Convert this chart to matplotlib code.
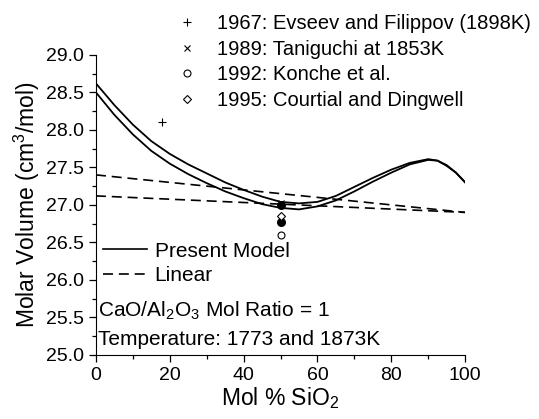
import matplotlib
matplotlib.use("Agg")
import matplotlib.pyplot as plt
from matplotlib.lines import Line2D

plt.rcParams['font.family'] = ['Liberation Sans', 'DejaVu Sans']
plt.rcParams['mathtext.fontset'] = 'custom'
plt.rcParams['mathtext.rm'] = 'Liberation Sans'
plt.rcParams['mathtext.it'] = 'Liberation Sans'

# model curves (1773 K and 1873 K)
x_model = [0, 5, 10, 15, 20, 25, 30, 35, 40, 45, 50, 55, 60, 65, 70, 75, 80, 85, 90, 92.5, 95, 97.5, 100]
v_model_hi = [28.62, 28.33, 28.07, 27.85, 27.68, 27.54, 27.42, 27.30, 27.20, 27.11, 27.04, 27.02, 27.04,
              27.12, 27.24, 27.36, 27.47, 27.56, 27.61, 27.59, 27.53, 27.43, 27.30]
v_model_lo = [28.50, 28.20, 27.94, 27.72, 27.55, 27.41, 27.29, 27.18, 27.09, 27.01, 26.96, 26.94, 26.98,
              27.06, 27.18, 27.31, 27.43, 27.54, 27.60, 27.59, 27.52, 27.43, 27.30]

# linear mixing lines
x_lin = [0, 100]
v_lin_hi = [27.40, 26.90]
v_lin_lo = [27.12, 26.90]

# experimental data
x_evseev, v_evseev = [18], [28.10]
x_tani, v_tani = [50], [27.02]
x_konche, v_konche = [50], [26.60]
x_court, v_court = [50], [26.85]
x_filled, v_filled = [50, 50], [27.00, 26.77]

DASH = (0, (6, 3.5))

fig = plt.figure(figsize=(5.39, 4.19), dpi=100)
ax = fig.add_axes([0.178, 0.153, 0.685, 0.716])

ax.plot(x_model, v_model_hi, color='black', lw=1.3)
ax.plot(x_model, v_model_lo, color='black', lw=1.3)
ax.plot(x_lin, v_lin_hi, color='black', lw=1.2, ls=DASH)
ax.plot(x_lin, v_lin_lo, color='black', lw=1.2, ls=DASH)

ax.plot(x_evseev, v_evseev, ls='none', marker='+', ms=6, mew=0.8, color='black')
ax.plot(x_tani, v_tani, ls='none', marker='x', ms=5, mew=0.8, color='black')
ax.plot(x_filled, v_filled, ls='none', marker='o', ms=5.5, color='black')
ax.plot(x_court, v_court, ls='none', marker='D', ms=4.5, mfc='white', mec='black', mew=0.8)
ax.plot(x_konche, v_konche, ls='none', marker='o', ms=5, mfc='white', mec='black', mew=0.8)

ax.set_xlim(0, 100)
ax.set_ylim(25.0, 29.0)
ax.set_xticks([0, 20, 40, 60, 80, 100])
ax.set_xticks(range(10, 100, 20), minor=True)
ax.set_yticks([25.0, 25.5, 26.0, 26.5, 27.0, 27.5, 28.0, 28.5, 29.0])
ax.set_yticks([25.25 + 0.5 * i for i in range(8)], minor=True)
ax.yaxis.set_major_formatter(matplotlib.ticker.FormatStrFormatter('%.1f'))
ax.tick_params(which='major', direction='out', length=5, width=0.9, labelsize=14)
ax.tick_params(which='minor', direction='out', length=3, width=0.9)
for s in ['top', 'right']:
    ax.spines[s].set_visible(False)

ax.set_xlabel('Mol % SiO$_2$', fontsize=16.5, labelpad=1)
ax.set_ylabel('Molar Volume (cm$^3$/mol)', fontsize=16.5, labelpad=3)

# line legend inside the axes
line_handles = [Line2D([], [], color='black', lw=1.2),
                Line2D([], [], color='black', lw=1.2, ls=DASH)]
ax.legend(line_handles, ['Present Model', 'Linear'], loc='lower left',
          bbox_to_anchor=(-0.02, 0.185), frameon=False, fontsize=15,
          handlelength=2.1, handletextpad=0.37, labelspacing=0.25, borderpad=0.2)

ax.text(0.005, 0.128, 'CaO/Al$_2$O$_3$ Mol Ratio = 1', transform=ax.transAxes,
        fontsize=15, va='baseline', ha='left')
ax.text(0.005, 0.033, 'Temperature: 1773 and 1873K', transform=ax.transAxes,
        fontsize=15, va='baseline', ha='left')

# data legend above the axes
data_handles = [
    Line2D([], [], ls='none', marker='+', ms=6, mew=0.8, color='black'),
    Line2D([], [], ls='none', marker='x', ms=5, mew=0.8, color='black'),
    Line2D([], [], ls='none', marker='o', ms=5, mfc='white', mec='black', mew=0.8),
    Line2D([], [], ls='none', marker='D', ms=4.5, mfc='white', mec='black', mew=0.8),
]
data_labels = ['1967: Evseev and Filippov (1898K)', '1989: Taniguchi at 1853K',
               '1992: Konche et al.', '1995: Courtial and Dingwell']
fig.legend(data_handles, data_labels, loc='upper left', bbox_to_anchor=(0.302, 1.0),
           frameon=False, fontsize=14.5, handlelength=1.0, handletextpad=1.0,
           labelspacing=0.33, borderpad=0.2)

fig.savefig('out.png', dpi=100)
